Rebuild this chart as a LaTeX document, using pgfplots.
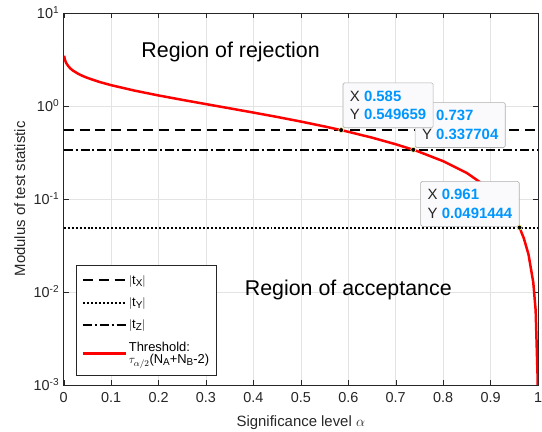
\documentclass[border=0pt]{standalone}
\usepackage{fontspec}
\setmainfont{Liberation Sans}
\usepackage{pgfplots}
\pgfplotsset{compat=1.18}
\definecolor{axgray}{RGB}{38,38,38}
\definecolor{tipblue}{RGB}{0,150,255}
\definecolor{tipfill}{RGB}{250,250,252}
\definecolor{tipedge}{RGB}{175,175,175}
\newcommand{\lf}{\fontsize{13}{17}\selectfont}
\newcommand{\sub}[1]{\raisebox{-0.3ex}{\fontsize{10}{10}\selectfont #1}}

\begin{document}
\begin{tikzpicture}
\begin{axis}[
  scale only axis, width=477pt, height=374pt,
  xmin=0, xmax=1, ymin=1e-3, ymax=10,
  ymode=log, log basis y=10,
  xtick={0,0.1,0.2,0.3,0.4,0.5,0.6,0.7,0.8,0.9,1},
  ytick={1e-3,1e-2,1e-1,1,10},
  yticklabel={\pgfmathtruncatemacro\e{round(\tick)}10\textsuperscript{\e}},
  /pgf/number format/assume math mode=true,
  tick align=inside, axis line style={axgray},
  tick style={axgray},
  major tick length=5pt, minor tick length=2.5pt,
  xmajorgrids, ymajorgrids, yminorgrids,
  major grid style={gray!22, line width=0.5pt},
  minor grid style={gray!45, dash pattern=on 1pt off 2.5pt, line width=0.5pt},
  tick label style={font=\fontsize{14.5}{16}\selectfont, color=axgray},
  xticklabel style={yshift=-4pt},
  yticklabel style={xshift=-1pt},
  label style={font=\fontsize{15}{17}\selectfont, color=axgray},
  xlabel={Significance level $\alpha$},
  ylabel={Modulus of test statistic},
  xlabel style={at={(axis description cs:0.5,-0.1016)}, anchor=center},
  ylabel style={at={(axis description cs:-0.0922,0.5)}, anchor=center},
  legend cell align=left,
  legend style={at={(rel axis cs:0.027,0.026)}, anchor=south west,
    draw=axgray, row sep=8pt,
    cells={align=left},
    inner xsep=5pt, inner ysep=8pt},
  legend image code/.code={\draw[#1] (0pt,0pt) -- (43pt,0pt);},
]
% |t_X|
\addplot[black, line width=2pt, dash pattern=on 10pt off 6pt]
  coordinates {(0,0.549659)(1,0.549659)};
\addlegendentry{\lf$|$t\sub{X}$|$}
% |t_Y|
\addplot[black, line width=2pt, dash pattern=on 2pt off 2pt]
  coordinates {(0,0.0491444)(1,0.0491444)};
\addlegendentry{\lf$|$t\sub{Y}$|$}
% |t_Z|
\addplot[black, line width=2pt, dash pattern=on 9pt off 3pt on 2pt off 3pt]
  coordinates {(0,0.337704)(1,0.337704)};
\addlegendentry{\lf$|$t\sub{Z}$|$}
% threshold curve
\addplot[red, line width=2.5pt] coordinates {
  (0.001,3.466)(0.0025,3.161)(0.005,2.918)(0.01,2.663)(0.015,2.507)
  (0.02,2.392)(0.03,2.225)(0.04,2.101)(0.05,2.002)(0.075,1.813)
  (0.1,1.672)(0.15,1.459)(0.2,1.296)(0.25,1.162)(0.3,1.046)
  (0.35,0.942)(0.4,0.848)(0.45,0.761)(0.5,0.679)(0.55,0.601)
  (0.585,0.549659)(0.6,0.527)(0.65,0.456)(0.7,0.387)(0.737,0.337704)
  (0.75,0.320)(0.8,0.2545)(0.85,0.1899)(0.9,0.1262)(0.925,0.0945)
  (0.95,0.0630)(0.961,0.0491444)(0.97,0.0378)(0.98,0.0252)
  (0.99,0.0126)(0.995,0.0063)(0.999,0.00126)(0.9992,0.00100)};
\addlegendentry{\lf Threshold:\\\lf$\tau_{\alpha/2}$(N\sub{A}+N\sub{B}-2)}
% data tip markers
\addplot[only marks, mark=*, mark size=2.5pt, mark options={fill=black, draw=yellow!40!white, line width=0.6pt}, forget plot]
  coordinates {(0.585,0.549659)(0.737,0.337704)(0.961,0.0491444)};
% region texts
\node[font=\fontsize{21.5}{24}\selectfont, black] at (axis cs:0.352,3.83) {Region of rejection};
\node[font=\fontsize{21.5}{24}\selectfont, black] at (axis cs:0.60,0.0104) {Region of acceptance};
% data tips
\tikzset{tip/.style={draw=tipedge, fill=tipfill, rounded corners=1.5pt, align=left,
  inner xsep=7pt, inner ysep=8pt, font=\fontsize{15}{18.5}\selectfont, text=axgray, line width=0.6pt}}
\node[tip, anchor=south west] at ([xshift=1.5pt,yshift=2pt]axis cs:0.737,0.337704)
  {X \textbf{\color{tipblue}0.737}\\Y \textbf{\color{tipblue}0.337704}};
\node[tip, anchor=south west] at ([xshift=1.5pt,yshift=2pt]axis cs:0.585,0.549659)
  {X \textbf{\color{tipblue}0.585}\\Y \textbf{\color{tipblue}0.549659}};
\node[tip, anchor=south east] at ([xshift=0pt,yshift=1pt]axis cs:0.961,0.0491444)
  {X \textbf{\color{tipblue}0.961}\\Y \textbf{\color{tipblue}0.0491444}};
\end{axis}
\pgfresetboundingbox
\path[use as bounding box] (current axis.south west) ++(-64pt,-47pt)
  rectangle ([shift={(4pt,13pt)}]current axis.north east);
\end{tikzpicture}
\end{document}
